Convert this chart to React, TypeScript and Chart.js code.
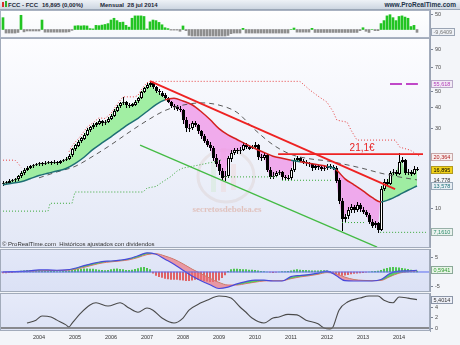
import React, { useEffect, useRef } from 'react';
import { Chart, registerables } from 'chart.js';

Chart.register(...registerables);

const FONT = '"Liberation Sans", Arial, sans-serif';
const X_MIN = -1;
const X_MAX = 142 + 1 / 3;
const YEAR_TICKS = [12, 24, 36, 48, 60, 72, 84, 96, 108, 120, 132];
const FIRST_YEAR = 2003;

// ---- monthly candles (Jan 2003 .. Jul 2014) ----
const opens = [
  14.0, 14.2, 14.3, 14.6, 14.7, 14.9, 15.5, 16.2, 16.9, 17.4, 17.8, 18.1,
  18.3, 18.6, 18.5, 18.7, 18.9, 18.7, 19.0, 18.7, 19.1, 19.4, 19.8, 20.6,
  22.5, 23.8, 25.0, 26.2, 27.5, 29.4, 30.5, 31.5, 32.2, 33.5, 32.4, 33.0,
  34.2, 35.8, 38.5, 40.6, 42.5, 43.2, 41.5, 41.0, 42.0, 43.5, 45.5, 49.5,
  52.5, 54.7, 56.5, 53.2, 50.2, 49.3, 47.6, 45.5, 43.2, 41.0, 40.4, 39.5,
  38.7, 33.7, 30.2, 30.4, 32.5, 31.5, 29.0, 27.0, 25.3, 24.0, 22.9, 20.0,
  18.5, 16.8, 15.3, 15.6, 19.9, 21.5, 22.3, 22.0, 22.3, 23.9, 23.4, 22.9,
  23.2, 23.9, 20.2, 19.9, 20.8, 17.0, 15.5, 15.6, 16.2, 16.4, 15.3, 15.2,
  15.1, 16.9, 19.4, 19.9, 19.2, 18.9, 18.6, 18.3, 17.4, 17.8, 17.6, 17.2,
  17.4, 17.8, 17.6, 17.5, 14.7, 11.0, 8.6, 8.9, 9.7, 10.1, 9.7, 10.4,
  9.8, 9.5, 9.1, 8.3, 7.9, 8.1, 7.4, 13.0, 14.3, 14.0, 16.2, 16.5,
  16.1, 19.0, 19.4, 16.2, 16.4, 16.0, 17.2,
];
const closes = [
  14.2, 14.3, 14.6, 14.7, 14.9, 15.5, 16.2, 16.9, 17.4, 17.8, 18.1, 18.3,
  18.6, 18.5, 18.7, 18.9, 18.7, 19.0, 18.7, 19.1, 19.4, 19.8, 20.6, 22.5,
  23.8, 25.0, 26.2, 27.5, 29.4, 30.5, 31.5, 32.2, 33.5, 32.4, 33.0, 34.2,
  35.8, 38.5, 40.6, 42.5, 43.2, 41.5, 41.0, 42.0, 43.5, 45.5, 49.5, 52.5,
  54.7, 56.5, 53.2, 50.2, 49.3, 47.6, 45.5, 43.2, 41.0, 40.4, 39.5, 38.7,
  33.7, 30.2, 30.4, 32.5, 31.5, 29.0, 27.0, 25.3, 24.0, 22.9, 20.0, 18.5,
  16.8, 15.3, 15.6, 19.9, 21.5, 22.3, 22.0, 22.3, 23.9, 23.4, 22.9, 23.2,
  23.9, 20.2, 19.9, 20.8, 17.0, 15.5, 15.6, 16.2, 16.4, 15.3, 15.2, 15.1,
  16.9, 19.4, 19.9, 19.2, 18.9, 18.6, 18.3, 17.4, 17.8, 17.6, 17.2, 17.4,
  17.8, 17.6, 17.5, 14.7, 11.0, 8.6, 8.9, 9.7, 10.1, 9.7, 10.4, 9.8,
  9.5, 9.1, 8.3, 7.9, 8.1, 7.4, 13.0, 14.3, 14.0, 16.2, 16.5, 16.1,
  19.0, 19.4, 16.2, 16.4, 16.0, 17.2, 16.895,
];
const highs = [
  14.5, 14.6, 14.9, 15.0, 15.2, 15.9, 16.6, 17.3, 17.8, 18.2, 18.5, 18.7,
  19.0, 18.9, 19.1, 19.3, 19.2, 19.4, 19.2, 19.5, 19.8, 20.3, 21.2, 23.0,
  24.4, 25.6, 26.8, 28.2, 30.1, 31.2, 32.2, 33.0, 34.3, 34.0, 33.8, 35.0,
  36.6, 39.4, 41.5, 43.5, 46.4, 44.0, 42.5, 43.0, 44.5, 46.5, 50.5, 53.5,
  56.0, 58.0, 57.0, 54.0, 51.5, 50.5, 49.0, 46.5, 44.0, 42.0, 41.5, 41.0,
  39.5, 35.0, 32.0, 33.5, 33.5, 32.0, 29.5, 27.8, 26.0, 24.8, 23.5, 21.0,
  19.5, 17.5, 16.8, 20.5, 22.2, 23.0, 23.0, 23.2, 24.8, 24.6, 23.8, 24.0,
  24.8, 24.2, 21.0, 21.6, 21.2, 17.6, 16.5, 16.8, 17.0, 16.8, 15.8, 15.8,
  17.5, 20.0, 20.5, 20.4, 19.8, 19.4, 19.0, 18.6, 18.4, 18.2, 18.0, 18.0,
  18.4, 18.4, 18.2, 18.0, 15.2, 11.5, 9.2, 10.2, 10.6, 10.5, 10.9, 10.8,
  10.2, 9.8, 9.4, 8.6, 8.4, 8.3, 13.5, 15.0, 15.0, 16.8, 17.2, 17.0,
  21.5, 20.4, 19.8, 17.2, 17.0, 17.8, 17.6,
];
const lows = [
  13.6, 13.9, 14.0, 14.3, 14.4, 14.6, 15.2, 15.9, 16.6, 17.1, 17.5, 17.8,
  18.0, 18.0, 18.1, 18.3, 18.2, 18.4, 18.2, 18.4, 18.8, 19.1, 19.4, 20.2,
  22.0, 23.3, 24.5, 25.6, 27.0, 28.8, 29.8, 30.8, 31.6, 31.2, 31.6, 32.5,
  33.6, 35.2, 37.8, 40.0, 41.6, 40.0, 39.8, 40.3, 41.2, 43.0, 45.0, 48.8,
  51.5, 53.5, 52.0, 49.0, 47.8, 46.5, 44.5, 42.5, 40.0, 39.0, 38.5, 37.5,
  32.0, 28.5, 28.8, 29.5, 30.5, 28.0, 26.0, 24.5, 23.2, 22.0, 19.2, 17.6,
  15.8, 14.5, 14.6, 15.2, 19.0, 20.8, 21.0, 21.2, 22.0, 22.6, 22.2, 22.5,
  22.8, 19.5, 19.2, 19.5, 16.5, 15.0, 15.0, 15.4, 15.8, 14.8, 14.7, 14.6,
  14.8, 16.5, 19.0, 18.8, 18.4, 18.0, 17.6, 16.8, 17.0, 17.0, 16.8, 16.8,
  17.0, 17.2, 17.0, 14.2, 10.6, 7.3, 8.3, 8.6, 9.4, 9.4, 9.5, 9.5,
  9.2, 8.8, 8.0, 7.6, 7.6, 7.1, 7.3, 12.7, 13.5, 13.8, 15.8, 15.6,
  15.8, 18.6, 15.8, 15.8, 15.6, 15.8, 16.6,
];

// ---- top histogram indicator (monthly) ----
const topIndicator = [
  40, -12, -12, -12, -12, -10, 48, -8, -5, -5, -5, -5,
  -5, 32, -9, -9, -9, -9, -9, -9, -9, -9, -8, -3,
  12, 13, 12, 13, 12, 3, 2, 14, 13, 15, 17, 20,
  32, 38, 30, 24, 25, 14, 8, 38, 46, 46, 46, 44,
  2, 26, 32, 30, 24, 16, 6, 3, -2, -2, -2, -6,
  12, -4, -20, -22, -22, -22, -22, -22, -22, -22, -22, -22,
  -22, -22, -22, -20, -14, -12, -12, -12, 4, -12, -12, -12,
  -12, -12, -12, -12, -12, -12, -12, -12, -12, -12, -12, -12,
  0, 5, -9, -9, -9, -9, -9, 4, -10, -10, -10, -10,
  -10, -10, -10, -10, -10, -10, -10, -10, -10, -10, -10, -4,
  6, -6, -10, 0, -4, -4, 20, 30, 46, 50, 40, 30,
  44, 46, 42, 38, 10, 14, -9.6409,
];

// ---- main panel overlays: [month, price] ----
const maPoints = [
  [0, 13.8], [3, 14.1], [6, 14.4], [9, 15.0], [12, 15.7], [15, 16.2], [18, 16.7], [21, 17.3],
  [24, 18.5], [27, 20.2], [30, 22.5], [33, 24.6], [36, 26.8], [39, 29.3], [42, 32.0], [45, 34.6],
  [48, 38.0], [51, 41.8], [54, 44.6], [57, 45.6], [60, 43.9], [63, 41.7], [66, 38.0], [69, 34.0],
  [72, 30.0], [75, 27.5], [78, 25.8], [81, 24.2], [84, 22.8], [87, 21.6], [90, 20.5], [93, 19.9],
  [96, 19.4], [99, 19.0], [102, 18.6], [105, 18.2], [108, 17.8], [111, 17.0], [114, 15.0], [117, 13.8],
  [120, 12.7], [123, 11.6], [126, 10.9], [129, 11.3], [132, 12.0], [135, 12.8], [138, 13.578],
];
const slowMaPoints = [
  [12, 15.2], [18, 16.5], [24, 17.8], [30, 20.5], [36, 24.0], [42, 28.5], [48, 33.5], [54, 38.5],
  [60, 41.5], [66, 42.8], [72, 41.5], [78, 37.5], [84, 29.5], [90, 24.0], [96, 21.0], [102, 19.8],
  [108, 19.2], [114, 18.3], [120, 17.3], [126, 16.2], [132, 15.4], [138, 14.778],
];
const resistancePoints = [
  [-1, 19.4], [4, 19.4], [5, 18.6], [6, 17.6], [6.5, null],
  [22, 21.8], [23, 23.6], [24, 24.8], [26, 27.2], [28, 30.6], [30, 32.5], [32, 34.8], [34, 34.5],
  [36, 37.0], [38, 42.0], [40, 46.5], [44, 46.5], [45, 47.5], [46, 51.0], [47, 54.0], [48, 56.5],
  [49, 57.6], [99, 57.6], [102.3, 51.1], [105, 47.0], [108, 43.2], [110, 38.0], [111.3, 33.7],
  [114.7, 32.8], [116, 29.4], [118, 25.6], [130.7, 25.6], [132.3, 23.2], [135.7, 22.3],
  [137.3, 21.4], [139, 20.364],
];
const supportPoints = [
  [-1, 9.6], [15, 9.6], [15.7, 10.7], [23, 10.7], [24, 12.5], [46.7, 12.5], [48, 13.2], [51, 13.5],
  [53, 14.3], [56, 15.5], [58, 16.7], [60, 17.4], [65, 18.1], [70, 18.9], [73, 19.5], [73.5, null],
  [74, 15.4], [92, 15.4], [92.5, null], [93, 14.7], [110, 14.7], [111, null],
  [113, 8.2], [121, 8.2], [121.5, null], [125.7, 7.161], [141, 7.161],
];
const redTrend = [[49, 57.8], [130.7, 13.0]];
const greenTrend = [[45.7, 23.9], [124.7, 5.84]];
const levelLine = [[91.7, 21.1], [140, 21.1]];
const prevHighLine = [[129, 55.618], [138.3, 55.618]];
const MAIN_TICKS = [10, 20, 30, 40, 50, 70, 90];

// ---- MACD panel ----
const macdPoints = [
  [0, 0.0], [3, 0.1], [6, 0.2], [9, 0.4], [12, 0.7], [15, 0.7], [18, 0.6], [21, 0.7],
  [24, 1.3], [27, 2.2], [30, 3.0], [33, 3.6], [36, 3.8], [39, 4.1], [42, 4.6], [45, 5.6],
  [48, 6.6], [51, 6.1], [54, 4.4], [57, 2.7], [60, 0.6], [63, -1.4], [66, -3.0], [69, -4.4],
  [72, -5.7], [75, -5.2], [78, -4.1], [81, -3.3], [84, -2.8], [87, -2.8], [90, -3.1], [93, -3.1],
  [96, -1.6], [99, -1.2], [102, -0.9], [105, -0.4], [108, 0.3], [111, -1.2], [114, -3.0], [117, -3.1],
  [120, -3.1], [123, -3.1], [126, -2.6], [129, -0.5], [132, 0.3], [135, 0.4], [138, 0.5941],
];
const signalPoints = [
  [0, 0.0], [3, 0.0], [6, 0.1], [9, 0.2], [12, 0.4], [15, 0.5], [18, 0.5], [21, 0.6],
  [24, 0.9], [27, 1.6], [30, 2.4], [33, 3.1], [36, 3.5], [39, 3.8], [42, 4.2], [45, 5.0],
  [48, 6.0], [51, 6.3], [54, 5.5], [57, 4.4], [60, 2.8], [63, 1.0], [66, -0.6], [69, -2.2],
  [72, -3.6], [75, -4.5], [78, -4.5], [81, -4.0], [84, -3.5], [87, -3.1], [90, -3.0], [93, -3.0],
  [96, -2.3], [99, -1.7], [102, -1.3], [105, -0.8], [108, -0.2], [111, -0.6], [114, -1.8], [117, -2.6],
  [120, -2.9], [123, -3.0], [126, -2.9], [129, -1.6], [132, -0.4], [135, 0.1], [138, 0.4],
];
const macdHist = [
  -0.3, -0.3, -0.2, -0.2, 0.1, 0.2, 0.3, 0.4, 0.5, 0.5, 0.5, 0.4,
  0.4, 0.3, 0.3, 0.2, 0.2, 0.2, 0.1, 0.1, 0.3, 0.3, 0.5, 0.7,
  0.9, 0.9, 1.0, 1.1, 1.1, 1.0, 1.0, 0.8, 0.7, 0.6, 0.5, 0.6,
  0.8, 1.0, 1.1, 0.9, 0.8, 0.6, 0.6, 0.7, 0.9, 1.2, 1.5, 1.6,
  1.3, 0.8, -0.4, -1.2, -1.6, -1.9, -2.2, -2.4, -2.6, -2.6, -2.6, -2.7,
  -2.8, -3.0, -3.0, -2.8, -2.6, -2.6, -2.8, -3.0, -3.2, -3.3, -3.3, -3.2,
  -2.8, -2.0, -1.0, 0.2, 0.8, 1.0, 1.0, 0.9, 0.8, 0.8, 0.7, 0.7,
  0.6, 0.4, 0.2, 0.1, 0.0, -0.1, -0.2, -0.1, 0.0, 0.1, 0.1, 0.2,
  0.4, 0.7, 0.8, 0.7, 0.6, 0.6, 0.5, 0.4, 0.4, 0.4, 0.5, 0.5,
  0.4, 0.2, -0.3, -0.8, -1.1, -1.2, -1.1, -0.9, -0.7, -0.5, -0.4, -0.3,
  -0.2, -0.1, 0.0, 0.1, 0.2, 0.3, 0.6, 1.0, 1.3, 1.5, 1.6, 1.5,
  1.4, 1.3, 1.1, 0.9, 0.7, 0.5, 0.3,
];

// ---- bottom oscillator ----
const oscPoints = [
  [8, 0.95], [11, 1.5], [13, 2.3], [16, 2.1], [18, 1.5], [21, 0.6], [22, 0.2], [23, 0.9],
  [26, 2.9], [29, 4.4], [31, 4.8], [35, 4.2], [39, 4.8], [42, 3.8], [45, 3.0], [48, 3.8],
  [50, 3.4], [53, 1.9], [57, 0.95], [60, 1.9], [62, 3.4], [66, 4.8], [68, 5.3], [72, 6.1],
  [76, 5.7], [79, 4.0], [81, 3.0], [83, 1.9], [87, 0.95], [90, 1.9], [92, 2.1], [95, 2.6],
  [98, 2.5], [101, 1.5], [105, 0.8], [107, 0.0], [109, -0.2], [110, 0.2], [112, 3.4], [115, 5.0],
  [119, 5.7], [122, 6.1], [125, 6.1], [127, 5.3], [130, 4.8], [132, 5.9], [135, 5.7], [138, 5.4014],
];

// ---------------- helpers ----------------
const toXY = (pts: (number | null)[][]) => pts.map(([x, y]) => ({ x: x as number, y }));
const seriesXY = (vals: number[]) => vals.map((y, i) => ({ x: i, y }));

type Box = { value: number; text: string; color: string; bg: string; border: string };

function boxesPlugin(id: string, boxes: Box[]) {
  return {
    id,
    afterDraw(chart: any) {
      const { ctx } = chart;
      const ys = chart.scales.y;
      ctx.save();
      ctx.font = `5.5px ${FONT}`;
      for (const b of boxes) {
        const py = Math.round(ys.getPixelForValue(b.value));
        const w = Math.ceil(ctx.measureText(b.text).width) + 4;
        ctx.fillStyle = b.bg;
        ctx.fillRect(431, py - 4, w + 1, 8);
        ctx.strokeStyle = b.border;
        ctx.lineWidth = 1;
        ctx.strokeRect(431.5, py - 3.5, w, 7);
        ctx.fillStyle = b.color;
        ctx.textBaseline = 'middle';
        ctx.textAlign = 'left';
        ctx.fillText(b.text, 433.5, py + 0.5);
      }
      ctx.restore();
    },
  };
}

function panelPlugin(id: string, top: string, bottom: string, border: string) {
  return {
    id,
    beforeDraw(chart: any) {
      const { ctx, chartArea: a } = chart;
      ctx.save();
      const g = ctx.createLinearGradient(0, a.top, 0, a.bottom);
      g.addColorStop(0, top);
      g.addColorStop(1, bottom);
      ctx.fillStyle = g;
      ctx.fillRect(a.left, a.top, a.right - a.left, a.bottom - a.top);
      ctx.restore();
    },
    afterDatasetsDraw(chart: any) {
      const { ctx, chartArea: a } = chart;
      ctx.save();
      ctx.strokeStyle = border;
      ctx.lineWidth = 1;
      ctx.strokeRect(a.left + 0.5, a.top + 0.5, a.right - a.left - 1, a.bottom - a.top - 1);
      ctx.restore();
    },
  };
}

const candlePlugin = {
  id: 'candles',
  afterDatasetDraw(chart: any, args: any) {
    if (args.index !== 0) return;
    const { ctx, chartArea: a } = chart;
    const xs = chart.scales.x;
    const ys = chart.scales.y;
    ctx.save();
    ctx.beginPath();
    ctx.rect(a.left, a.top, a.right - a.left, a.bottom - a.top);
    ctx.clip();
    ctx.lineWidth = 1;
    ctx.strokeStyle = '#000';
    for (let i = 0; i < closes.length; i++) {
      const x = Math.round(xs.getPixelForValue(i));
      const yo = ys.getPixelForValue(opens[i]);
      const yc = ys.getPixelForValue(closes[i]);
      const yh = ys.getPixelForValue(highs[i]);
      const yl = ys.getPixelForValue(lows[i]);
      ctx.beginPath();
      ctx.moveTo(x + 0.5, Math.round(yh));
      ctx.lineTo(x + 0.5, Math.round(yl));
      ctx.stroke();
      const top = Math.round(Math.min(yo, yc));
      const h = Math.max(1, Math.round(Math.abs(yo - yc)));
      if (closes[i] >= opens[i]) {
        ctx.fillStyle = '#ffffff';
        ctx.fillRect(x - 1, top, 3, h);
        ctx.strokeRect(x - 0.5, top + 0.5, 2, Math.max(0, h - 1));
      } else {
        ctx.fillStyle = '#000000';
        ctx.fillRect(x - 1, top, 3, h);
      }
    }
    ctx.restore();
  },
};

const decoPlugin = {
  id: 'deco',
  beforeDatasetsDraw(chart: any) {
    const { ctx } = chart;
    ctx.save();
    ctx.strokeStyle = 'rgba(215,195,188,0.3)';
    ctx.lineWidth = 3;
    ctx.beginPath();
    ctx.ellipse(226, 138, 28, 26, 0, 0, Math.PI * 2);
    ctx.stroke();
    ctx.fillStyle = 'rgba(205,232,205,0.4)';
    ctx.fillRect(211, 124, 5, 30);
    ctx.fillStyle = 'rgba(240,210,210,0.4)';
    ctx.fillRect(221, 110, 5, 44);
    ctx.fillRect(231, 126, 5, 26);
    ctx.font = 'bold 9px "Liberation Serif", serif';
    ctx.fillStyle = 'rgba(218,160,142,0.55)';
    ctx.textAlign = 'center';
    ctx.textBaseline = 'middle';
    ctx.fillText('secretosdebolsa.es', 227, 172);
    ctx.restore();
  },
  afterDatasetsDraw(chart: any) {
    const { ctx, chartArea: a } = chart;
    const xs = chart.scales.x;
    const ys = chart.scales.y;
    ctx.save();
    ctx.font = `10px ${FONT}`;
    ctx.fillStyle = '#e82020';
    ctx.textAlign = 'center';
    ctx.textBaseline = 'alphabetic';
    ctx.fillText('21,1€', xs.getPixelForValue(119.7), ys.getPixelForValue(21.1) - 3);
    ctx.font = `6px ${FONT}`;
    ctx.fillStyle = '#333';
    ctx.textAlign = 'left';
    ctx.textBaseline = 'middle';
    ctx.fillText('© ProRealTime.com  Históricos ajustados con dividendos', a.left + 2, a.bottom - 4);
    ctx.restore();
  },
};

const fitRight = (s: any) => {
  s.width = 30;
  s.paddingTop = 0;
  s.paddingBottom = 0;
};

function xScale(show: boolean): any {
  const base: any = {
    type: 'linear',
    min: X_MIN,
    max: X_MAX,
    offset: false,
    bounds: 'data',
    display: show,
    grid: { display: false, drawTicks: false, drawOnChartArea: false },
    border: { display: false },
  };
  if (show) {
    base.afterFit = (s: any) => {
      s.height = 14;
      s.paddingLeft = 0;
      s.paddingRight = 0;
    };
    base.afterBuildTicks = (s: any) => {
      s.ticks = YEAR_TICKS.map((v) => ({ value: v }));
    };
    base.ticks = {
      callback: (v: number) => String(FIRST_YEAR + Math.round(v / 12)),
      font: { size: 5.5, family: FONT },
      color: '#333',
      padding: 3,
      maxRotation: 0,
      autoSkip: false,
    };
  }
  return base;
}

function yScale(type: string, min: number, max: number, ticks: number[]): any {
  return {
    type,
    position: 'right',
    min,
    max,
    bounds: 'data',
    afterFit: fitRight,
    afterBuildTicks: (s: any) => {
      s.ticks = ticks.map((v) => ({ value: v }));
    },
    grid: { display: true, drawOnChartArea: false, drawTicks: true, tickLength: 3, color: '#7c8596' },
    border: { display: true, color: '#9aa3b3' },
    ticks: {
      font: { size: 5.5, family: FONT },
      color: '#4a4a4a',
      padding: 2,
      autoSkip: false,
      callback: (v: number) => String(v),
    },
  };
}

function baseOptions(y: any, showX = false): any {
  return {
    responsive: false,
    maintainAspectRatio: false,
    animation: false,
    events: [],
    layout: { padding: 0 },
    plugins: { legend: { display: false }, tooltip: { enabled: false } },
    elements: { point: { radius: 0 } },
    scales: { x: xScale(showX), y },
  };
}

const maColor = (ctx: any) => {
  const m = Math.round((ctx.p0.parsed.x + ctx.p1.parsed.x) / 2);
  const v = (ctx.p0.parsed.y + ctx.p1.parsed.y) / 2;
  const c = closes[Math.min(closes.length - 1, Math.max(0, m))];
  return v > c ? '#d42020' : '#1d6f73';
};

function volumeConfig(): any {
  return {
    type: 'bar',
    data: {
      datasets: [
        {
          data: seriesXY(topIndicator),
          backgroundColor: (c: any) => (c.raw && c.raw.y >= 0 ? '#22c422' : '#8e8e8e'),
          barThickness: 2,
        },
      ],
    },
    options: baseOptions(yScale('linear', -28.7, 65.9, [50])),
    plugins: [
      panelPlugin('volPanel', '#ffffff', '#f6f8fc', '#a9b2c2'),
      boxesPlugin('volBoxes', [{ value: -9.6409, text: '-9,6409', color: '#777', bg: '#eef1f6', border: '#9aa4b4' }]),
    ],
  };
}

function mainConfig(): any {
  const line = { pointRadius: 0, fill: false, tension: 0 };
  return {
    type: 'line',
    data: {
      datasets: [
        {
          ...line,
          data: seriesXY(closes),
          borderColor: 'rgba(0,0,0,0)',
          borderWidth: 1,
          fill: { target: 1, above: 'rgba(140,236,140,0.8)', below: 'rgba(240,150,232,0.78)' },
          order: 20,
        },
        {
          ...line,
          data: toXY(maPoints),
          borderWidth: 1.5,
          borderColor: '#1d6f73',
          cubicInterpolationMode: 'monotone',
          segment: { borderColor: maColor },
          order: 8,
        },
        {
          ...line,
          data: toXY(slowMaPoints),
          borderColor: '#5a5a5a',
          borderWidth: 1,
          borderDash: [5, 4],
          cubicInterpolationMode: 'monotone',
          order: 9,
        },
        { ...line, data: toXY(resistancePoints), borderColor: '#e84040', borderWidth: 1, borderDash: [1, 2], order: 9 },
        { ...line, data: toXY(supportPoints), borderColor: '#38a838', borderWidth: 1, borderDash: [1, 2], order: 9 },
        { ...line, data: toXY(redTrend), borderColor: '#ee2222', borderWidth: 1.8, order: 3 },
        { ...line, data: toXY(greenTrend), borderColor: '#44bb44', borderWidth: 1.3, order: 3 },
        { ...line, data: toXY(levelLine), borderColor: '#ee2222', borderWidth: 1.6, order: 3 },
        { ...line, data: toXY(prevHighLine), borderColor: '#c048c8', borderWidth: 2, borderDash: [12, 4], order: 3 },
      ],
    },
    options: baseOptions(yScale('logarithmic', 5.77, 104.8, MAIN_TICKS)),
    plugins: [
      panelPlugin('mainPanel', '#fdfdff', '#e3e8f6', '#a2abbb'),
      candlePlugin,
      decoPlugin,
      boxesPlugin('mainBoxes', [
        { value: 55.618, text: '55,618', color: '#b03cb8', bg: '#f3eaf6', border: '#b8a8c8' },
        { value: 20.364, text: '20,364', color: '#b02020', bg: '#f8eeee', border: '#c8a8a8' },
        { value: 16.895, text: '16,895', color: '#000', bg: '#f2d21a', border: '#b09a20' },
        { value: 14.778, text: '14,778', color: '#333', bg: '#f3f5f9', border: '#f3f5f9' },
        { value: 13.578, text: '13,578', color: '#1b6f78', bg: '#e8eef4', border: '#98a8b8' },
        { value: 7.161, text: '7,1610', color: '#2a8a6a', bg: '#eaf2ee', border: '#98b0a8' },
      ]),
    ],
  };
}

function macdConfig(): any {
  return {
    type: 'line',
    data: {
      datasets: [
        {
          type: 'bar',
          data: seriesXY(macdHist),
          backgroundColor: (c: any) => (c.raw && c.raw.y >= 0 ? '#2fbf2f' : '#e04848'),
          barThickness: 1,
          order: 6,
        },
        {
          data: toXY(signalPoints),
          borderColor: '#e07070',
          borderWidth: 1,
          pointRadius: 0,
          fill: false,
          cubicInterpolationMode: 'monotone',
          order: 4,
        },
        {
          data: toXY(macdPoints),
          borderColor: '#4848dc',
          borderWidth: 1.2,
          pointRadius: 0,
          cubicInterpolationMode: 'monotone',
          fill: { target: 1, above: 'rgba(70,200,70,0.85)', below: 'rgba(236,110,120,0.65)' },
          order: 3,
        },
        {
          data: [{ x: X_MIN, y: 0 }, { x: X_MAX, y: 0 }],
          borderColor: '#5c6cf0',
          borderWidth: 1,
          pointRadius: 0,
          fill: false,
          order: 1,
        },
      ],
    },
    options: baseOptions(yScale('linear', -6.9, 7.93, [-5, 5])),
    plugins: [
      panelPlugin('macdPanel', '#e3e8f8', '#dbe1f5', '#a2abbb'),
      boxesPlugin('macdBoxes', [{ value: 0.5941, text: '0,5941', color: '#2f9a2f', bg: '#e8f4e8', border: '#8aa898' }]),
    ],
  };
}

function oscConfig(): any {
  return {
    type: 'line',
    data: {
      datasets: [
        {
          data: toXY(oscPoints),
          borderColor: '#4a4a4a',
          borderWidth: 1.1,
          pointRadius: 0,
          cubicInterpolationMode: 'monotone',
          fill: { target: { value: 0 }, above: 'rgba(0,0,0,0)', below: 'rgba(232,150,50,0.9)' },
          order: 2,
        },
        {
          data: [{ x: X_MIN, y: 0 }, { x: X_MAX, y: 0 }],
          borderColor: '#6b6b6b',
          borderWidth: 1.5,
          pointRadius: 0,
          fill: false,
          order: 1,
        },
      ],
    },
    options: baseOptions(yScale('linear', -0.57, 6.67, [0, 2, 4]), true),
    plugins: [
      panelPlugin('oscPanel', '#e6eaf9', '#dde3f6', '#a2abbb'),
      boxesPlugin('oscBoxes', [{ value: 5.4014, text: '5,4014', color: '#333', bg: '#eef0f8', border: '#8c96a8' }]),
    ],
  };
}

export default function App() {
  const volRef = useRef<HTMLCanvasElement>(null);
  const mainRef = useRef<HTMLCanvasElement>(null);
  const macdRef = useRef<HTMLCanvasElement>(null);
  const oscRef = useRef<HTMLCanvasElement>(null);

  useEffect(() => {
    const charts: Chart[] = [];
    if (volRef.current) charts.push(new Chart(volRef.current, volumeConfig()));
    if (mainRef.current) charts.push(new Chart(mainRef.current, mainConfig()));
    if (macdRef.current) charts.push(new Chart(macdRef.current, macdConfig()));
    if (oscRef.current) charts.push(new Chart(oscRef.current, oscConfig()));
    return () => charts.forEach((c) => c.destroy());
  }, []);

  const abs = (top: number): React.CSSProperties => ({ position: 'absolute', left: 0, top, display: 'block' });

  return (
    <div
      style={{
        position: 'absolute',
        left: 0,
        top: 0,
        width: 460,
        height: 345,
        background: '#f3f5f9',
        overflow: 'hidden',
        fontFamily: FONT,
      }}
    >
      <div
        style={{
          position: 'absolute',
          left: 0,
          top: 0,
          width: 460,
          height: 10,
          background: 'linear-gradient(#eef2f7, #cdd6e1)',
          borderBottom: '1px solid #9aa6b6',
          boxSizing: 'border-box',
          fontWeight: 'bold',
          fontSize: 6,
          color: '#1c2838',
          lineHeight: '10px',
          whiteSpace: 'pre',
        }}
      >
        <span style={{ position: 'absolute', left: 2, top: 2, width: 2, height: 5, background: '#d83030' }} />
        <span style={{ position: 'absolute', left: 5, top: 1, width: 2, height: 6, background: '#30b030' }} />
        <span style={{ position: 'absolute', left: 8, top: 0 }}>FCC - FCC</span>
        <span style={{ position: 'absolute', left: 42, top: 0 }}>16,895 (0,00%)</span>
        <span style={{ position: 'absolute', left: 100, top: 0 }}>Mensual  28 jul 2014</span>
        <span style={{ position: 'absolute', right: 4, top: 0, fontSize: 6.5, color: '#22344a' }}>www.ProRealTime.com</span>
      </div>
      <canvas ref={volRef} width={460} height={28} style={abs(10)} />
      <canvas ref={mainRef} width={460} height={210} style={abs(38)} />
      <canvas ref={macdRef} width={460} height={43} style={abs(249)} />
      <canvas ref={oscRef} width={460} height={52} style={abs(293)} />
    </div>
  );
}
